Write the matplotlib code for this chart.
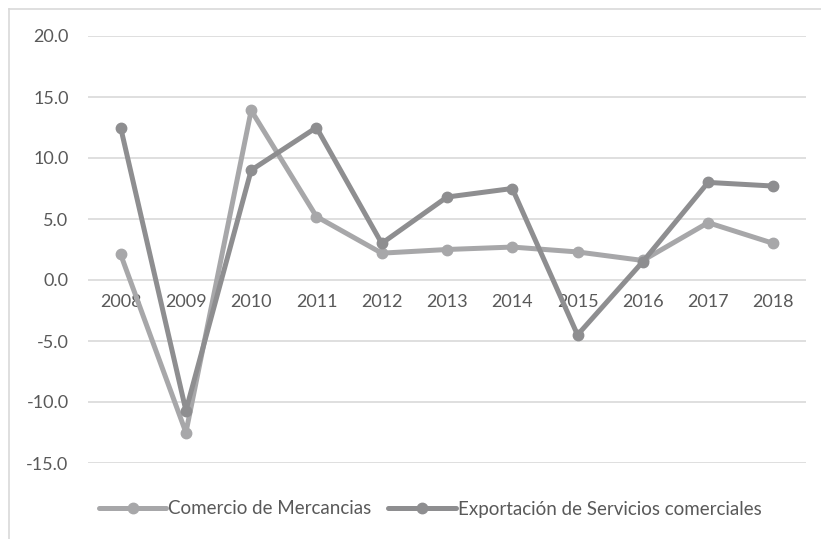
import matplotlib
matplotlib.use('Agg')
import matplotlib.pyplot as plt
from matplotlib.lines import Line2D

years = ['2008', '2009', '2010', '2011', '2012', '2013', '2014', '2015', '2016', '2017', '2018']
comercio = [2.1, -12.5, 13.9, 5.2, 2.2, 2.5, 2.7, 2.3, 1.6, 4.7, 3.0]
servicios = [12.5, -10.7, 9.0, 12.5, 3.0, 6.8, 7.5, -4.5, 1.5, 8.0, 7.7]
yticks = [-15, -10, -5, 0, 5, 10, 15, 20]

TEXT_COLOR = '#595959'
GRID_COLOR = '#d9d9d9'
LIGHT = '#a7a7a9'
DARK = '#8e8e90'

plt.rcParams['font.family'] = ['Lato', 'DejaVu Sans']

W, H = 821, 539
fig = plt.figure(figsize=(W / 100, H / 100), dpi=100, facecolor='white')
ax = fig.add_axes([88 / W, 1 - 463 / H, (806 - 88) / W, (463 - 36) / H])

x = list(range(len(years)))
ax.plot(x, comercio, color=LIGHT, lw=3.6, marker='o', ms=7.5,
        solid_capstyle='round', label='Comercio de Mercancias', zorder=3)
ax.plot(x, servicios, color=DARK, lw=3.6, marker='o', ms=7.5,
        solid_capstyle='round', label='Exportación de Servicios comerciales', zorder=4)

ax.set_xlim(-0.5, len(years) - 0.5)
ax.set_ylim(-15, 20)
ax.set_yticks(yticks)
ax.set_yticklabels([f'{v:.1f}' for v in yticks])
ax.set_xticks(x)
ax.set_xticklabels(years)
ax.grid(axis='y', color=GRID_COLOR, lw=1.2)
ax.set_axisbelow(True)
for s in ax.spines.values():
    s.set_visible(False)
ax.spines['bottom'].set_position(('data', 0))
ax.tick_params(axis='y', length=0, pad=14, labelsize=13, labelcolor=TEXT_COLOR)
ax.tick_params(axis='x', length=0, pad=10, labelsize=13, labelcolor=TEXT_COLOR)

leg = fig.legend(loc='center', bbox_to_anchor=(0.524, 1 - 509 / H), ncol=2, frameon=False,
                 fontsize=13.5, handlelength=3.6, handletextpad=0.1, columnspacing=0.9,
                 labelcolor=TEXT_COLOR)

# chart border (only top and left are inside the image)
fig.add_artist(Line2D([9 / W, 9 / W], [0, 1 - 9 / H], transform=fig.transFigure, color=GRID_COLOR, lw=1.2))
fig.add_artist(Line2D([9 / W, 1], [1 - 9 / H, 1 - 9 / H], transform=fig.transFigure, color=GRID_COLOR, lw=1.2))

fig.savefig('out.png', dpi=100, facecolor='white')
